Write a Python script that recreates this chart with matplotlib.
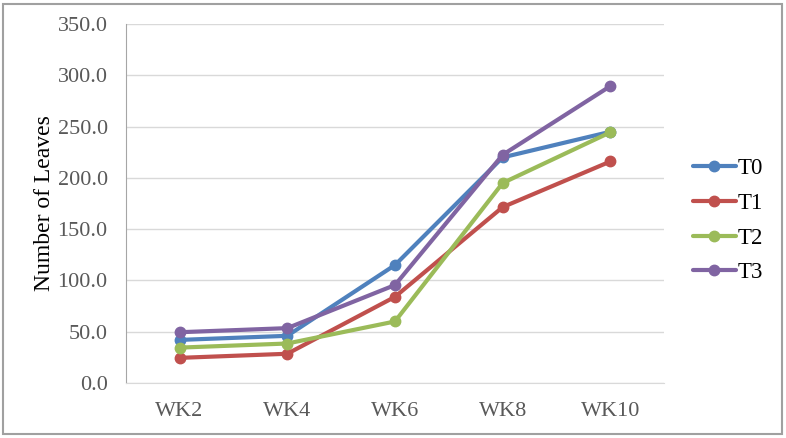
import matplotlib
matplotlib.use("Agg")
import matplotlib.pyplot as plt
from matplotlib.patches import Rectangle

weeks = ["WK2", "WK4", "WK6", "WK8", "WK10"]
t0 = [42.0, 46.0, 115.0, 220.0, 245.0]
t1 = [24.5, 28.5, 84.0, 171.5, 216.0]
t2 = [34.5, 38.5, 60.0, 195.0, 244.5]
t3 = [49.5, 53.5, 95.5, 222.5, 289.5]
series = {"T0": t0, "T1": t1, "T2": t2, "T3": t3}
colors = {"T0": "#4f81bd", "T1": "#c0504d", "T2": "#9bbb59", "T3": "#8064a2"}

plt.rcParams['font.family'] = ['Liberation Serif', 'DejaVu Serif']

fig = plt.figure(figsize=(7.86, 4.38), dpi=100)
ax = fig.add_axes([0.160, 0.1256, 0.685, 0.8194])

x = list(range(len(weeks)))
for name, vals in series.items():
    ax.plot(x, vals, color=colors[name], linewidth=3, marker='o',
            markersize=7.5, label=name, solid_capstyle='round')

ax.set_xlim(-0.5, len(weeks) - 0.5)
ax.set_ylim(0, 350)
ax.set_yticks(range(0, 351, 50))
ax.set_yticklabels([f"{v:.1f}" for v in range(0, 351, 50)])
ax.set_xticks(x)
ax.set_xticklabels(weeks)
ax.tick_params(axis='both', length=0, labelsize=16, colors='#595959')
ax.tick_params(axis='y', pad=13)
ax.tick_params(axis='x', pad=14)
ax.grid(axis='y', color='#d9d9d9', linewidth=1)
ax.set_axisbelow(True)
for s in ['top', 'right']:
    ax.spines[s].set_visible(False)
ax.spines['bottom'].set_color('#d9d9d9')
ax.spines['left'].set_color('#a6a6a6')
ax.set_ylabel("Number of Leaves", fontsize=17, color='black', labelpad=2)

ax.legend(loc='center left', bbox_to_anchor=(1.054, 0.452), frameon=False,
          fontsize=16.5, handlelength=1.85, handletextpad=0.1, labelspacing=0.6,
          borderaxespad=0, borderpad=0)

fig.patches.append(Rectangle((3 / 786, 4 / 438), 779 / 786, 430 / 438,
                             transform=fig.transFigure, fill=False,
                             edgecolor='#a0a0a0', linewidth=1.5))

fig.savefig("out.png", dpi=100)
